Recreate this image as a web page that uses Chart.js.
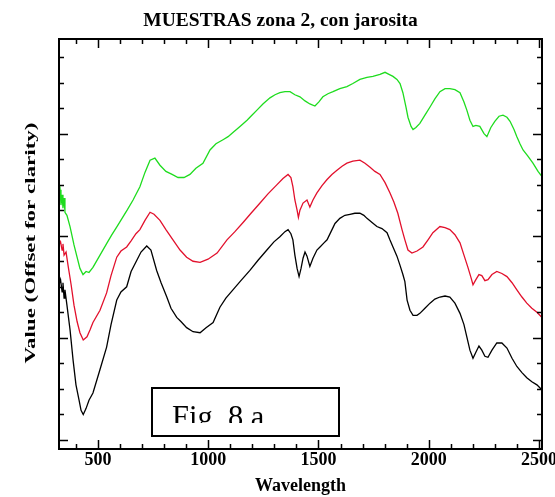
<!DOCTYPE html>
<html><head><meta charset="utf-8">
<script src="https://cdn.jsdelivr.net/npm/chart.js@4/dist/chart.umd.min.js"></script>
<style>html,body{margin:0;padding:0;background:#fff;overflow:hidden}#wrap{width:555px;height:497px;position:relative}</style>
</head><body><div id="wrap"><canvas id="c" width="555" height="497"></canvas></div>
<script>
const chartTitle = 'MUESTRAS zona 2, con jarosita';
const xTitle = 'Wavelength';
const yTitle = 'Value (Offset for clarity)';
const figLabel = 'Fig. 8 a';

const xLabelTicks = [500, 1000, 1500, 2000, 2500];
const xTickValues = [400,500,600,700,800,900,1000,1100,1200,1300,1400,1500,1600,1700,1800,1900,2000,2100,2200,2300,2400,2500];
const yTickValues = [0,0.25,0.5,0.75,1,1.25,1.5,1.75,2,2.25,2.5,2.75,3,3.25,3.5,3.75];

const blackWl = [323,330,337,341,346,350,359,373,387,400,414,423,433,446,459,477,509,539,559,585,604,630,650,676,695,721,740,766,786,812,831,857,876,902,931,963,990,1022,1053,1080,1112,1148,1189,1226,1266,1298,1325,1348,1362,1375,1384,1393,1403,1412,1421,1430,1439,1448,1461,1475,1493,1507,1525,1539,1557,1575,1597,1620,1643,1665,1688,1706,1720,1743,1765,1788,1811,1824,1838,1856,1870,1883,1892,1902,1915,1929,1947,1960,1983,2006,2028,2051,2074,2096,2119,2142,2160,2173,2187,2201,2214,2228,2241,2255,2269,2287,2309,2332,2355,2378,2400,2423,2445,2468,2491,2514];
const blackVal = [1.52,1.57,1.45,1.54,1.39,1.47,1.32,1.08,0.78,0.54,0.39,0.29,0.25,0.31,0.39,0.46,0.69,0.91,1.13,1.37,1.45,1.50,1.65,1.76,1.84,1.90,1.86,1.66,1.54,1.40,1.29,1.20,1.16,1.10,1.06,1.05,1.10,1.15,1.30,1.39,1.47,1.56,1.66,1.76,1.86,1.94,1.99,2.04,2.06,2.02,1.96,1.81,1.68,1.60,1.68,1.78,1.84,1.80,1.70,1.78,1.86,1.89,1.93,1.96,2.04,2.12,2.17,2.20,2.21,2.22,2.22,2.20,2.17,2.13,2.09,2.07,2.03,1.96,1.89,1.80,1.71,1.62,1.55,1.37,1.27,1.22,1.22,1.24,1.29,1.34,1.38,1.40,1.41,1.40,1.34,1.24,1.13,1.01,0.88,0.80,0.86,0.92,0.88,0.82,0.81,0.88,0.95,0.95,0.90,0.80,0.72,0.66,0.61,0.57,0.54,0.49];

const redWl = [323,330,337,341,346,355,364,378,391,405,418,433,450,464,477,509,539,559,585,604,630,650,672,690,713,736,754,781,808,840,872,902,931,963,999,1040,1085,1121,1158,1194,1235,1271,1312,1339,1362,1375,1384,1393,1403,1409,1416,1430,1448,1461,1475,1493,1516,1539,1561,1584,1607,1629,1656,1688,1711,1734,1756,1779,1802,1824,1842,1860,1879,1892,1906,1924,1947,1974,1997,2019,2051,2074,2096,2119,2142,2160,2178,2192,2201,2214,2228,2241,2255,2269,2287,2309,2332,2355,2378,2400,2423,2445,2468,2491,2514];
const redVal = [1.91,1.94,1.86,1.92,1.81,1.84,1.71,1.52,1.32,1.16,1.05,0.98,1.01,1.08,1.15,1.27,1.44,1.61,1.79,1.85,1.89,1.95,2.02,2.06,2.15,2.23,2.21,2.15,2.06,1.96,1.86,1.79,1.75,1.74,1.77,1.83,1.96,2.04,2.13,2.22,2.32,2.41,2.50,2.56,2.60,2.57,2.48,2.35,2.25,2.18,2.25,2.32,2.35,2.28,2.35,2.42,2.49,2.55,2.60,2.64,2.68,2.71,2.73,2.74,2.71,2.67,2.63,2.60,2.52,2.42,2.33,2.22,2.06,1.96,1.86,1.83,1.85,1.89,1.96,2.03,2.09,2.08,2.06,2.01,1.93,1.81,1.69,1.59,1.52,1.57,1.62,1.61,1.56,1.57,1.62,1.65,1.63,1.60,1.54,1.47,1.40,1.34,1.29,1.25,1.20];

const greenWl = [323,328,332,337,341,346,350,359,373,391,405,418,432,446,459,477,509,541,563,586,609,632,659,690,713,736,758,781,808,836,863,890,917,944,976,1008,1035,1067,1090,1112,1144,1176,1198,1221,1248,1280,1303,1325,1348,1371,1393,1416,1439,1461,1484,1502,1520,1543,1566,1597,1629,1656,1688,1720,1747,1779,1802,1820,1838,1856,1870,1883,1897,1906,1920,1929,1942,1960,1983,2006,2028,2051,2074,2096,2119,2142,2160,2173,2187,2201,2214,2232,2251,2264,2282,2300,2319,2337,2355,2369,2387,2400,2414,2428,2450,2473,2496,2514];
const greenVal = [2.40,2.45,2.30,2.40,2.27,2.37,2.23,2.20,2.09,1.91,1.79,1.68,1.62,1.65,1.64,1.69,1.81,1.93,2.01,2.09,2.17,2.25,2.35,2.48,2.62,2.74,2.76,2.69,2.63,2.60,2.57,2.57,2.60,2.66,2.71,2.84,2.90,2.94,2.97,3.01,3.07,3.13,3.18,3.23,3.29,3.35,3.38,3.40,3.41,3.41,3.38,3.36,3.32,3.29,3.27,3.31,3.36,3.39,3.41,3.44,3.46,3.49,3.53,3.55,3.56,3.58,3.60,3.58,3.56,3.53,3.49,3.40,3.26,3.16,3.07,3.04,3.06,3.10,3.18,3.26,3.34,3.41,3.44,3.44,3.43,3.40,3.31,3.23,3.13,3.07,3.08,3.07,3.00,2.97,3.06,3.12,3.17,3.18,3.16,3.12,3.04,2.97,2.90,2.84,2.78,2.71,2.63,2.58];

const toPts = (wl, v) => wl.map((x, i) => ({x: x, y: v[i]}));

const framePlugin = {
  id: 'frame',
  afterDatasetsDraw(chart) {
    const {ctx, chartArea: a, scales: {x, y}} = chart;
    ctx.save();
    ctx.strokeStyle = '#000';
    ctx.lineWidth = 2;
    ctx.strokeRect(a.left, a.top, a.right - a.left, a.bottom - a.top);
    ctx.lineWidth = 1.5;
    ctx.beginPath();
    xTickValues.forEach(v => {
      const px = Math.round(x.getPixelForValue(v)) + 0.5;
      const len = v % 500 === 0 ? 9 : 5;
      ctx.moveTo(px, a.bottom); ctx.lineTo(px, a.bottom - len);
      ctx.moveTo(px, a.top); ctx.lineTo(px, a.top + len);
    });
    yTickValues.forEach(v => {
      const py = Math.round(y.getPixelForValue(v)) + 0.5;
      const len = v % 1 === 0 ? 9 : 5;
      ctx.moveTo(a.left, py); ctx.lineTo(a.left + len, py);
      ctx.moveTo(a.right, py); ctx.lineTo(a.right - len, py);
    });
    ctx.stroke();

    // y-axis title (stretched along its length like the original)
    ctx.save();
    ctx.fillStyle = '#000';
    ctx.font = 'bold 15px "Liberation Serif"';
    ctx.textAlign = 'center';
    ctx.textBaseline = 'middle';
    const w = ctx.measureText(yTitle).width;
    ctx.translate(31, (a.top + a.bottom) / 2 - 1);
    ctx.rotate(-Math.PI / 2);
    ctx.scale(241 / w, 1);
    ctx.fillText(yTitle, 0, 0);
    ctx.restore();

    // figure label box
    const bx = 152, by = 388, bw = 187, bh = 48;
    ctx.fillStyle = '#fff';
    ctx.fillRect(bx, by, bw, bh);
    ctx.lineWidth = 2;
    ctx.strokeRect(bx, by, bw, bh);
    ctx.save();
    ctx.beginPath();
    ctx.rect(bx + 2, by + 2, bw - 4, 33);
    ctx.clip();
    ctx.fillStyle = '#000';
    ctx.font = '30.5px "Liberation Serif"';
    ctx.textBaseline = 'alphabetic';
    ctx.textAlign = 'left';
    ctx.fillText(figLabel, 172, 427);
    ctx.restore();
    ctx.restore();
  }
};

new Chart(document.getElementById('c'), {
  type: 'line',
  data: {
    datasets: [
      {data: toPts(greenWl, greenVal), borderColor: '#1edc1e', borderWidth: 1.3, pointRadius: 0, tension: 0},
      {data: toPts(redWl, redVal), borderColor: '#e2102c', borderWidth: 1.3, pointRadius: 0, tension: 0},
      {data: toPts(blackWl, blackVal), borderColor: '#000000', borderWidth: 1.3, pointRadius: 0, tension: 0}
    ]
  },
  options: {
    responsive: false,
    animation: false,
    devicePixelRatio: 1,
    layout: {padding: {left: 19, right: 13, top: 0, bottom: 0}},
    plugins: {
      legend: {display: false},
      tooltip: {enabled: false},
      title: {
        display: true, text: chartTitle, color: '#000',
        font: {family: 'Liberation Serif', size: 19.5, weight: 'bold', lineHeight: 1.2},
        padding: {top: 9.3, bottom: 6.3}
      }
    },
    scales: {
      x: {
        type: 'linear', min: 323, max: 2514,
        grid: {display: false, drawTicks: false},
        border: {display: false},
        afterBuildTicks: s => { s.ticks = xLabelTicks.map(v => ({value: v})); },
        afterFit: s => { s.height = 48; s.paddingLeft = 0; s.paddingRight = 0; },
        ticks: {
          color: '#000', padding: 1, maxRotation: 0, autoSkip: false,
          font: {family: 'Liberation Serif', size: 18, weight: 'bold', lineHeight: 1.2},
          callback: v => String(v)
        },
        title: {
          display: true, text: xTitle, color: '#000',
          font: {family: 'Liberation Serif', size: 18, weight: 'bold', lineHeight: 1.2},
          padding: {top: 0, bottom: 0}
        }
      },
      y: {
        type: 'linear', min: -0.088, max: 3.926,
        grid: {display: false, drawTicks: false},
        border: {display: false},
        ticks: {display: false},
        afterFit: s => { s.width = 40; },
        title: {display: false}
      }
    }
  },
  plugins: [framePlugin]
});
</script>
</body></html>
